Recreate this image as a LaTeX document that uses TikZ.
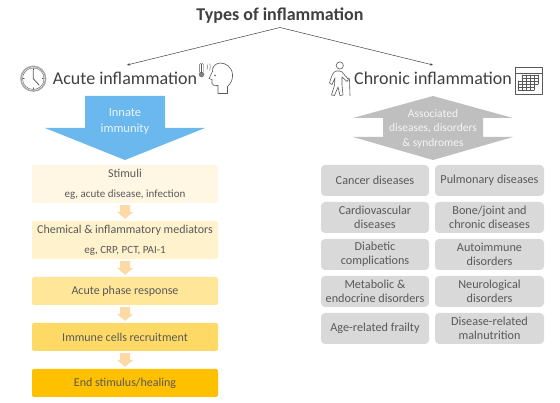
\documentclass[tikz,border=0pt]{standalone}
\usepackage{fontspec}
\setmainfont{Carlito}
\usetikzlibrary{arrows.meta}
\definecolor{txt}{HTML}{595959}
\definecolor{dark}{HTML}{404040}
\definecolor{icon}{HTML}{595959}
\definecolor{sky}{HTML}{6AB8EE}
\definecolor{gr}{HTML}{BFBFBF}
\definecolor{cell}{HTML}{D9D9D9}
\definecolor{sa}{HTML}{FFF7E3}
\definecolor{sb}{HTML}{FFF2CC}
\definecolor{sc}{HTML}{FFE699}
\definecolor{sd}{HTML}{FFD966}
\definecolor{se}{HTML}{FFC000}
\definecolor{hopcol}{HTML}{FDD9A5}
\tikzset{
 x=1pt,y=-1pt,
 flowbox/.style={draw=none,rounded corners=2pt,minimum width=186pt,inner sep=0pt,text=txt,align=center,font=\fontsize{12}{13}\selectfont},
 cellbox/.style={draw=none,fill=cell,rounded corners=4pt,inner sep=0pt,text=txt,align=center,font=\fontsize{12.2}{14.3}\selectfont},
 link/.style={draw=dark,line width=0.5pt,-{Stealth[length=3pt,width=2.5pt]}},
 heading/.style={inner sep=0pt,text=dark,font=\fontsize{18}{22}\selectfont},
 lab/.style={inner sep=0pt,align=center,text=#1,font=\fontsize{12.5}{15}\selectfont},
 ico/.style={draw=icon,line width=0.6pt,line join=round,line cap=round}
}
\newcommand{\flowbox}[5]{\node[flowbox,fill=#2,minimum height=#4pt] (#1) at (125,#3) {#5};}
\newcommand{\cellbox}[5]{\node[cellbox,minimum width=#4pt,minimum height=31pt] (#1) at #3 {#5};}
\begin{document}
\begin{tikzpicture}
\useasboundingbox (0,0) rectangle (560,403);
\fill[white] (0,0) rectangle (560,403);
% title & headings
\node[inner sep=0pt,text=dark,font=\bfseries\fontsize{18}{20}\selectfont] (title) at (280,15.5) {Types of inflammation};
\coordinate (apex) at (280,27.5);
\coordinate (al) at (127,65);
\coordinate (ar) at (433,65);
\draw[link] (apex) -- (al);
\draw[link] (apex) -- (ar);
\node[heading] (acute) at (125,78.5) {Acute inflammation};
\node[heading] (chronic) at (433,78.5) {Chronic inflammation};
% blue arrow
\fill[sky] (85,96) -- (165,96) -- (165,128) -- (205,128) -- (125,160) -- (45,128) -- (85,128) -- cycle;
\node[lab=white!85!sky] (innate) at (125,121.5) {Innate\\[1.5pt]immunity};
% grey arrow
\fill[gr] (433,96) -- (513,118) -- (483,118) -- (483,137) -- (513,137) -- (433,160) -- (353,137) -- (383,137) -- (383,118) -- (353,118) -- cycle;
\node[inner sep=0pt,align=center,text=white!85!gr,font=\fontsize{11.5}{14.5}\selectfont] (assoc) at (433,128.5) {Associated\\diseases, disorders\\\&\ syndromes};
% flow
\flowbox{s1}{sa}{184}{38}{Stimuli\\[7pt]{\fontsize{11}{12}\selectfont eg, acute disease, infection}}
\flowbox{s2}{sb}{240}{38}{Chemical \& inflammatory mediators\\[7pt]{\fontsize{11}{12}\selectfont eg, CRP, PCT, PAI-1}}
\flowbox{s3}{sc}{291}{28}{Acute phase response}
\flowbox{s4}{sd}{337}{28}{Immune cells recruitment}
\flowbox{s5}{se}{383}{28}{End stimulus/healing}
\foreach \a/\b in {s1/s2,s2/s3,s3/s4,s4/s5}{
 \path (\a.south) ++(0,2) coordinate (p);
 \path (\b.north) ++(0,-2) coordinate (q);
 \fill[hopcol] (p) ++(-5,0) -- ++(10,0) -- ++(0,7) -- ++(3,0) -- (q) -- ++(-8,-7) -- ++(3,0) -- cycle;
}
% cells
\cellbox{c1}{}{(375,180.5)}{108}{Cancer diseases}
\cellbox{c2}{}{(489.5,180.5)}{109}{Pulmonary diseases}
\cellbox{c3}{}{(375,217.5)}{108}{Cardiovascular\\diseases}
\cellbox{c4}{}{(489.5,217.5)}{109}{Bone/joint and\\chronic diseases}
\cellbox{c5}{}{(375,254.5)}{108}{Diabetic\\complications}
\cellbox{c6}{}{(489.5,254.5)}{109}{Autoimmune\\disorders}
\cellbox{c7}{}{(375,291.5)}{108}{Metabolic \&\\endocrine disorders}
\cellbox{c8}{}{(489.5,291.5)}{109}{Neurological\\disorders}
\cellbox{c9}{}{(375,328.5)}{108}{Age-related frailty}
\cellbox{c10}{}{(489.5,328.5)}{109}{Disease-related\\malnutrition}
% clock
\draw[icon!55,line width=1.4pt] (33.3,78.7) circle (12.4);
\draw[icon,line width=0.4pt] (33.3,78.7) circle (10.8);
\draw[ico,line width=0.8pt] (33.3,70.5) -- (33.3,78.7) -- (39,85);
\foreach \ang in {0,90,180,270}{\draw[ico] (33.3,78.7) ++(\ang:9) -- ++(\ang:1.2);}
% head + thermometer
\draw[ico] (227.5,93.5) -- (227.5,86.5) .. controls (231,83.5) and (233,79) .. (232.5,74.5)
 .. controls (232,67) and (226,63) .. (220,63) .. controls (215,63.5) and (212,67) .. (212.5,71.5)
 -- (209,78.5) -- (212,79.5) -- (212,83.5) .. controls (212.5,86) and (215,86) .. (218,85.5) -- (218,93.5) -- cycle;
\fill[icon] (215,75.5) circle (0.9);
\fill[icon!75] (201.5,74.5) circle (2.8);
\draw[icon,line width=1.4pt,line cap=round] (201.5,64.5) -- (201.5,73);
\draw[ico,line width=0.3pt,rounded corners=1.5pt] (199.6,72) -- (199.6,63) -- (203.4,63) -- (203.4,72);
\draw[ico,line width=0.4pt] (207,64.5) -- (207.6,67) -- (207,69.5) (209.7,63.5) -- (210.3,66.5) -- (209.7,70.5);
% old man
\draw[ico] (339.8,65.5) circle (3.6);
\draw[ico] (336.5,71) .. controls (333,71.5) and (331.5,76) .. (329.5,83) -- (332,84.5) -- (335,78) -- (334.5,85) -- (331.5,95) -- (334.5,95.5) -- (338,87) -- (340,95.5) -- (343,95) -- (342,85) -- (342,77) -- (347,81.5) -- (348.5,79.5) -- (342,72) .. controls (341,71) and (339,70.8) .. (336.5,71) -- cycle;
\draw[ico] (347.5,78.5) .. controls (349,77.5) and (349.5,78.5) .. (349.5,80) -- (350,95.5);
% calendar
\draw[ico,line width=0.8pt] (515.5,67.5) rectangle (542,94.5);
\draw[ico,line width=0.6pt] (515.5,73) -- (542,73);
\foreach \xx in {522,526,530,534,538}{\draw[ico,line width=0.5pt] (\xx,75) -- (\xx,84);}
\foreach \yy in {75,78,81,84}{\draw[ico,line width=0.5pt] (522,\yy) -- (538,\yy);}
\foreach \xx in {518,522,526,530,534}{\draw[ico,line width=0.5pt] (\xx,81) -- (\xx,90);}
\foreach \yy in {81,84,87,90}{\draw[ico,line width=0.5pt] (518,\yy) -- (534,\yy);}
\end{tikzpicture}
\end{document}
